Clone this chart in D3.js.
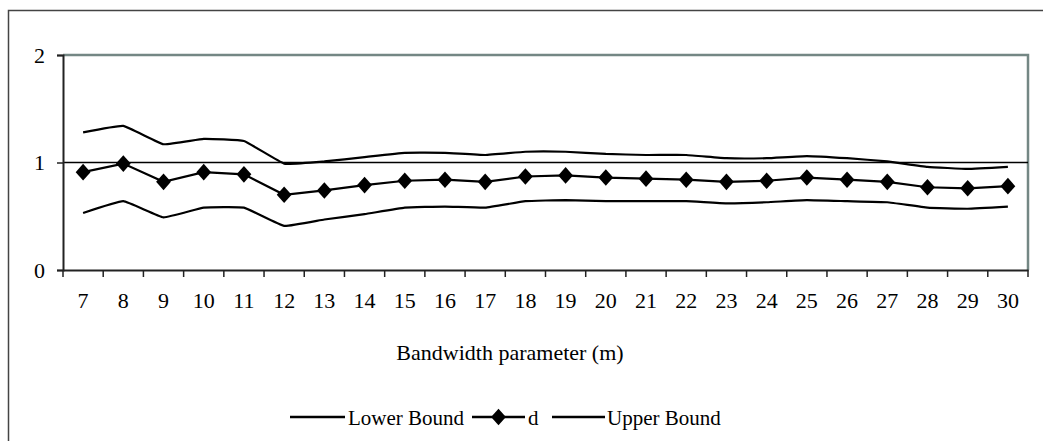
<!DOCTYPE html>
<html><head><meta charset="utf-8">
<script src="https://cdn.jsdelivr.net/npm/d3@7"></script>
<style>body{margin:0;background:#fff}svg{display:block}text{font-family:"Liberation Serif","Times New Roman",serif;fill:#000}</style>
</head><body><svg id="c" width="1043" height="441"></svg>
<script>
const categories = [7,8,9,10,11,12,13,14,15,16,17,18,19,20,21,22,23,24,25,26,27,28,29,30];
const lowerBound = [0.53,0.64,0.49,0.58,0.58,0.41,0.47,0.52,0.58,0.59,0.58,0.64,0.65,0.64,0.64,0.64,0.62,0.63,0.65,0.64,0.63,0.58,0.57,0.59];
const dValues   = [0.91,0.99,0.82,0.91,0.89,0.70,0.74,0.79,0.83,0.84,0.82,0.87,0.88,0.86,0.85,0.84,0.82,0.83,0.86,0.84,0.82,0.77,0.76,0.78];
const upperBound = [1.28,1.34,1.17,1.22,1.20,0.99,1.01,1.05,1.09,1.09,1.07,1.10,1.10,1.08,1.07,1.07,1.04,1.04,1.06,1.04,1.01,0.96,0.94,0.96];
const yTicks = [0,1,2];
const seriesNames = ["Lower Bound","d","Upper Bound"];

const svg = d3.select("#c");
const L = 63, R = 1028, T = 55, B = 270;
const x = d3.scaleBand().domain(categories).range([L, R]);
const y = d3.scaleLinear().domain([0, 2]).range([B, T]);

// outer frame
svg.append("rect").attr("x",8.5).attr("y",10.5).attr("width",1100).attr("height",600)
  .attr("fill","none").attr("stroke","#444").attr("stroke-width",1.5);

// plot area border (top and right)
svg.append("path").attr("d",`M${L},${T}H${R}V${B}`).attr("fill","none")
  .attr("stroke","#748784").attr("stroke-width",2.5);

// gridline at 1
svg.append("g").selectAll("line").data(yTicks.filter(v=>v>0 && v<2)).join("line")
  .attr("x1",L).attr("x2",R).attr("y1",d=>y(d)).attr("y2",d=>y(d))
  .attr("stroke","#000").attr("stroke-width",1.3);

// y axis
const ya = svg.append("g").attr("transform",`translate(${L},0)`)
  .call(d3.axisLeft(y).tickValues(yTicks).tickFormat(d3.format("d")).tickSize(6).tickPadding(12));
ya.select(".domain").attr("stroke","#222").attr("stroke-width",2);
ya.selectAll(".tick line").attr("stroke","#222").attr("stroke-width",1.5);
ya.selectAll("text").style("font-size","22px").attr("fill","#000").style("font-family","Liberation Serif");

// x axis
const xa = svg.append("g").attr("transform",`translate(0,${B})`)
  .call(d3.axisBottom(x).tickSize(0).tickPadding(22));
xa.select(".domain").attr("stroke","#222").attr("stroke-width",2);
xa.selectAll("text").style("font-size","22px").attr("fill","#000").style("font-family","Liberation Serif");
// tick marks at category boundaries
const bounds = categories.map(c=>x(c)).concat([x(categories[categories.length-1])+x.bandwidth()]);
svg.append("g").selectAll("line").data(bounds).join("line")
  .attr("x1",d=>d).attr("x2",d=>d).attr("y1",B).attr("y2",B+7)
  .attr("stroke","#222").attr("stroke-width",1.5);

const cx = c => x(c) + x.bandwidth()/2;
const line = d3.line().x((d,i)=>cx(categories[i])).y(d=>y(d));
const sline = d3.line().x((d,i)=>cx(categories[i])).y(d=>y(d)).curve(d3.curveCardinal.tension(0.7));

svg.append("path").datum(lowerBound).attr("d",sline).attr("fill","none").attr("stroke","#000").attr("stroke-width",2.2);
svg.append("path").datum(upperBound).attr("d",sline).attr("fill","none").attr("stroke","#000").attr("stroke-width",2.2);
svg.append("path").datum(dValues).attr("d",line).attr("fill","none").attr("stroke","#000").attr("stroke-width",2.2);

const diamond = d3.symbol().type(d3.symbolSquare).size(110);
svg.append("g").selectAll("path").data(dValues).join("path")
  .attr("d",diamond)
  .attr("transform",(d,i)=>`translate(${cx(categories[i])},${y(d)}) scale(1,1.12) rotate(45)`)
  .attr("fill","#000");

// axis title
svg.append("text").attr("x",510).attr("y",360).attr("text-anchor","middle")
  .style("font-size","22px").text("Bandwidth parameter (m)");

// legend
const ly = 417;
const leg = svg.append("g");
const items = [
  {name:seriesNames[0], x1:290, x2:345, tx:348, marker:false},
  {name:seriesNames[1], x1:472, x2:525, tx:528, marker:true},
  {name:seriesNames[2], x1:552, x2:605, tx:607, marker:false}
];
items.forEach(it=>{
  leg.append("line").attr("x1",it.x1).attr("x2",it.x2).attr("y1",ly).attr("y2",ly)
    .attr("stroke","#000").attr("stroke-width",2.5);
  if(it.marker) leg.append("path").attr("d",diamond)
    .attr("transform",`translate(${(it.x1+it.x2)/2},${ly}) scale(1,1.12) rotate(45)`).attr("fill","#000");
  leg.append("text").attr("x",it.tx).attr("y",ly+8).style("font-size","21px").text(it.name);
});
</script></body></html>
